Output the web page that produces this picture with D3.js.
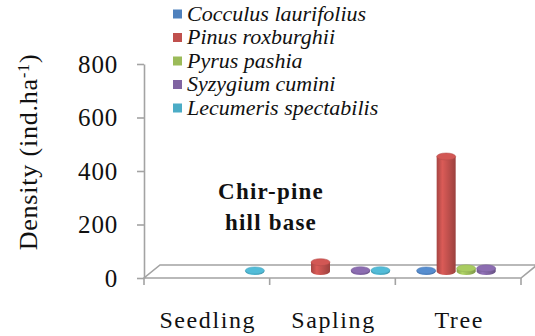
<!DOCTYPE html>
<html>
<head>
<meta charset="utf-8">
<script src="https://cdn.jsdelivr.net/npm/d3@7"></script>
<style>
  body { margin: 0; background: #fff; }
  svg { display: block; }
  svg text { font-family: "Liberation Serif", "DejaVu Serif", serif; }
</style>
</head>
<body>
<div id="chart"></div>
<script>
// chart data
const categories = ['Seedling', 'Sapling', 'Tree'];
const species = ['Cocculus laurifolius', 'Pinus roxburghii', 'Pyrus pashia', 'Syzygium cumini', 'Lecumeris spectabilis'];
const speciesColors = ['#4F81BD', '#C0504D', '#9BBB59', '#8064A2', '#4BACC6'];
const cocculus = [0, 0, 4];
const pinus = [0, 35, 430];
const pyrus = [0, 0, 12];
const syzygium = [0, 5, 12];
const lecumeris = [4, 5, 0];
const yTicks = [0, 200, 400, 600, 800];

const seriesValues = [cocculus, pinus, pyrus, syzygium, lecumeris];

const width = 535, height = 336;
const depth = {dx: 16, dy: -13};   // 3d floor offset
const axisColor = '#a3a3a3';
const serif = '"Liberation Serif", "DejaVu Serif", serif';

const svg = d3.select('#chart').append('svg')
    .attr('width', width)
    .attr('height', height);

const x0 = d3.scaleBand()
    .domain(categories)
    .range([144, 521]);

const x1 = d3.scaleBand()
    .domain(species)
    .range([0, 100]);

const y = d3.scaleLinear()
    .domain([0, 800])
    .range([278, 64]);

// gradients for the cylinders
const defs = svg.append('defs');
speciesColors.forEach((c, i) => {
    const g = defs.append('linearGradient')
        .attr('id', 'grad' + i)
        .attr('x1', 0).attr('x2', 1).attr('y1', 0).attr('y2', 0);
    g.append('stop').attr('offset', '0%').attr('stop-color', d3.color(c).darker(0.4));
    g.append('stop').attr('offset', '30%').attr('stop-color', d3.color(c).brighter(0.35));
    g.append('stop').attr('offset', '60%').attr('stop-color', c);
    g.append('stop').attr('offset', '100%').attr('stop-color', d3.color(c).darker(0.6));
});

// floor
const [fx0, fx1] = x0.range();
const fy = y(0);
svg.append('path')
    .attr('d', `M${fx0},${fy} L${fx1},${fy} L${fx1 + depth.dx},${fy + depth.dy} L${fx0 + depth.dx},${fy + depth.dy} Z`)
    .attr('fill', 'none')
    .attr('stroke', axisColor)
    .attr('stroke-width', 1.6);

// y axis
const yAxis = d3.axisLeft(y)
    .tickValues(yTicks)
    .tickSize(7)
    .tickSizeOuter(0)
    .tickPadding(19);

const yAxisG = svg.append('g')
    .attr('transform', `translate(${fx0},0)`)
    .call(yAxis)
    .attr('font-family', serif);
yAxisG.select('.domain').attr('stroke', axisColor).attr('stroke-width', 1.6);
yAxisG.selectAll('.tick line').attr('stroke', axisColor).attr('stroke-width', 1.6);
yAxisG.selectAll('.tick text')
    .attr('fill', '#111')
    .style('font-family', serif)
    .style('font-size', '25px')
    .style('letter-spacing', '0.8px');

// x axis: ticks at category boundaries, labels under the centres
const boundaries = categories.map(c => x0(c)).concat([fx1]);
svg.selectAll('.xtick')
    .data(boundaries)
    .join('line')
    .attr('class', 'xtick')
    .attr('x1', d => d).attr('x2', d => d)
    .attr('y1', fy).attr('y2', fy + 7)
    .attr('stroke', axisColor)
    .attr('stroke-width', 1.6);

svg.selectAll('.xlabel')
    .data(categories)
    .join('text')
    .attr('class', 'xlabel')
    .attr('x', d => x0(d) + x0.bandwidth() / 2 + 1)
    .attr('y', 328)
    .attr('text-anchor', 'middle')
    .attr('fill', '#111')
    .style('font-size', '24px')
    .style('letter-spacing', '1.6px')
    .text(d => d);

// y axis title
const yTitle = svg.append('text')
    .attr('transform', 'translate(37,152) rotate(-90)')
    .attr('text-anchor', 'middle')
    .attr('fill', '#111')
    .style('font-size', '26px')
    .style('letter-spacing', '0.8px');
yTitle.append('tspan').text('Density (ind.ha');
yTitle.append('tspan').attr('baseline-shift', 'super').style('font-size', '16px').text('-1');
yTitle.append('tspan').text(')');

// cylinders
const barW = 19, ry = 3.5;
const bars = [];
categories.forEach((c, ci) => {
    species.forEach((s, si) => {
        const v = seriesValues[si][ci];
        if (v > 0) bars.push({cat: c, sp: s, si: si, value: v});
    });
});

const barG = svg.selectAll('.bar')
    .data(bars)
    .join('g')
    .attr('class', 'bar')
    .attr('transform', d => {
        const cx = x0(d.cat) + (x0.bandwidth() - 100) / 2 + depth.dx / 2 + x1(d.sp) + x1.bandwidth() / 2;
        return `translate(${cx},${depth.dy / 2})`;
    });

barG.append('ellipse')
    .attr('cx', 0)
    .attr('cy', y(0))
    .attr('rx', barW / 2)
    .attr('ry', ry)
    .attr('fill', d => `url(#grad${d.si})`);

barG.append('rect')
    .attr('x', -barW / 2)
    .attr('y', d => y(d.value))
    .attr('width', barW)
    .attr('height', d => y(0) - y(d.value))
    .attr('fill', d => `url(#grad${d.si})`);

barG.append('ellipse')
    .attr('cx', 0)
    .attr('cy', d => y(d.value))
    .attr('rx', barW / 2)
    .attr('ry', ry)
    .attr('fill', d => d3.color(speciesColors[d.si]).brighter(0.25))
    .attr('stroke', d => d3.color(speciesColors[d.si]).darker(0.2))
    .attr('stroke-width', 0.5);

// annotation
const note = svg.append('text')
    .attr('text-anchor', 'middle')
    .attr('fill', '#111')
    .style('font-size', '23px')
    .style('font-weight', 'bold')
    .style('letter-spacing', '1.2px');
note.append('tspan').attr('x', 271).attr('y', 199).text('Chir-pine');
note.append('tspan').attr('x', 271).attr('y', 230).text('hill base');

// legend
const legend = svg.selectAll('.legend')
    .data(species)
    .join('g')
    .attr('class', 'legend')
    .attr('transform', (d, i) => `translate(173,${14 + i * 23.5})`);

legend.append('rect')
    .attr('x', 0).attr('y', -4.5)
    .attr('width', 9).attr('height', 9)
    .attr('fill', (d, i) => speciesColors[i]);

legend.append('text')
    .attr('x', 14)
    .attr('y', 6.5)
    .attr('fill', '#111')
    .style('font-size', '22px')
    .style('font-style', 'italic')
    .text(d => d);
</script>
</body>
</html>
